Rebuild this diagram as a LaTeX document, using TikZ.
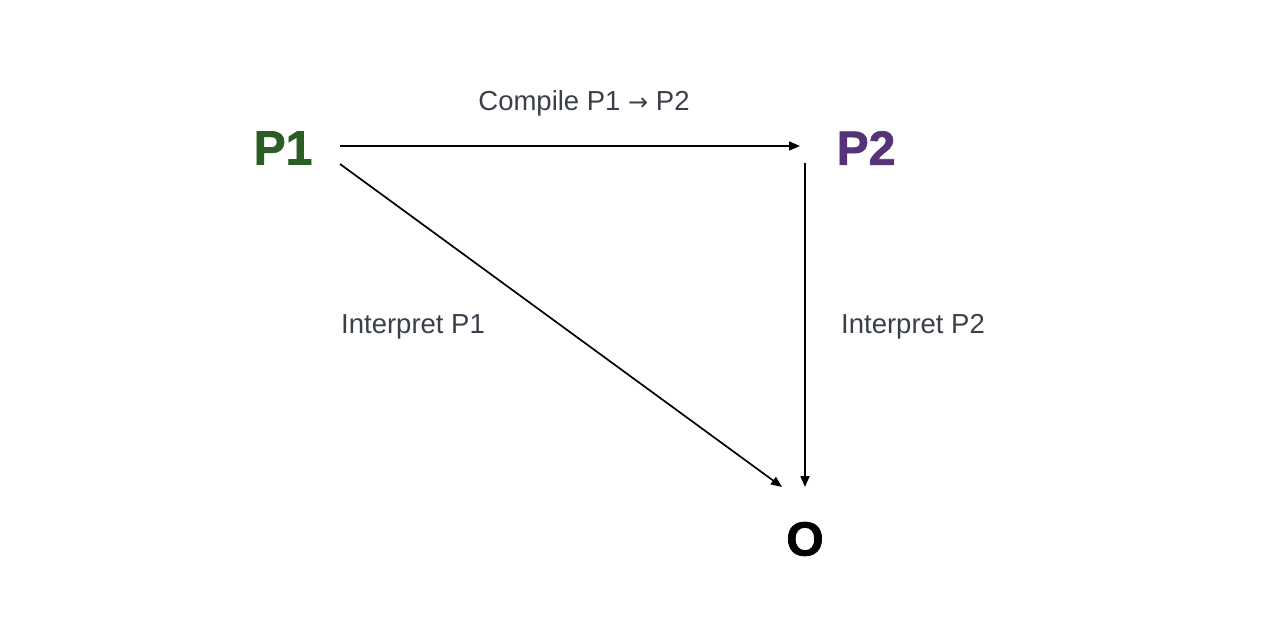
\documentclass[tikz,border=0pt]{standalone}
\usepackage{fontspec}
\setmainfont{Liberation Sans}
\newfontfamily\arrowfont{DejaVu Sans}
\newfontfamily\heavyfont[FakeBold=1.5]{Liberation Sans Bold}
\usetikzlibrary{arrows.meta}
\definecolor{pgreen}{HTML}{2B5E25}
\definecolor{ppurple}{HTML}{553377}
\definecolor{labelgray}{HTML}{3A3F4A}
\tikzset{
  prog/.style={font=\fontsize{48}{50}\selectfont\heavyfont, inner sep=0pt, anchor=center},
  lbl/.style={font=\fontsize{27.5}{30}\selectfont, text=labelgray, inner sep=0pt},
  conn/.style={line width=1.7pt, -{Triangle[length=11pt,width=9pt]}}
}
\begin{document}
\begin{tikzpicture}[x=1pt,y=-1pt]
\useasboundingbox (0,0) rectangle (1280,636);
\node[prog, text=pgreen] (p1) at (283,148) {P1};
\node[prog, text=ppurple] (p2) at (866,148) {P2};
\node[prog, text=black] (o) at (805,539) {O};
\coordinate (a1s) at (340,146);
\coordinate (a1e) at (800,146);
\coordinate (a2s) at (340,164);
\coordinate (a2e) at (782,487);
\coordinate (a3s) at (805,163);
\coordinate (a3e) at (805,487);
\draw[conn] (a1s) -- (a1e);
\draw[conn] (a2s) -- (a2e);
\draw[conn] (a3s) -- (a3e);
\node[lbl] (l1) at (584,103) {Compile P1 {\arrowfont\fontsize{24}{28}\selectfont →} P2};
\node[lbl, anchor=west] (l2) at (341,327) {Interpret P1};
\node[lbl, anchor=west] (l3) at (841,327) {Interpret P2};
\end{tikzpicture}
\end{document}
